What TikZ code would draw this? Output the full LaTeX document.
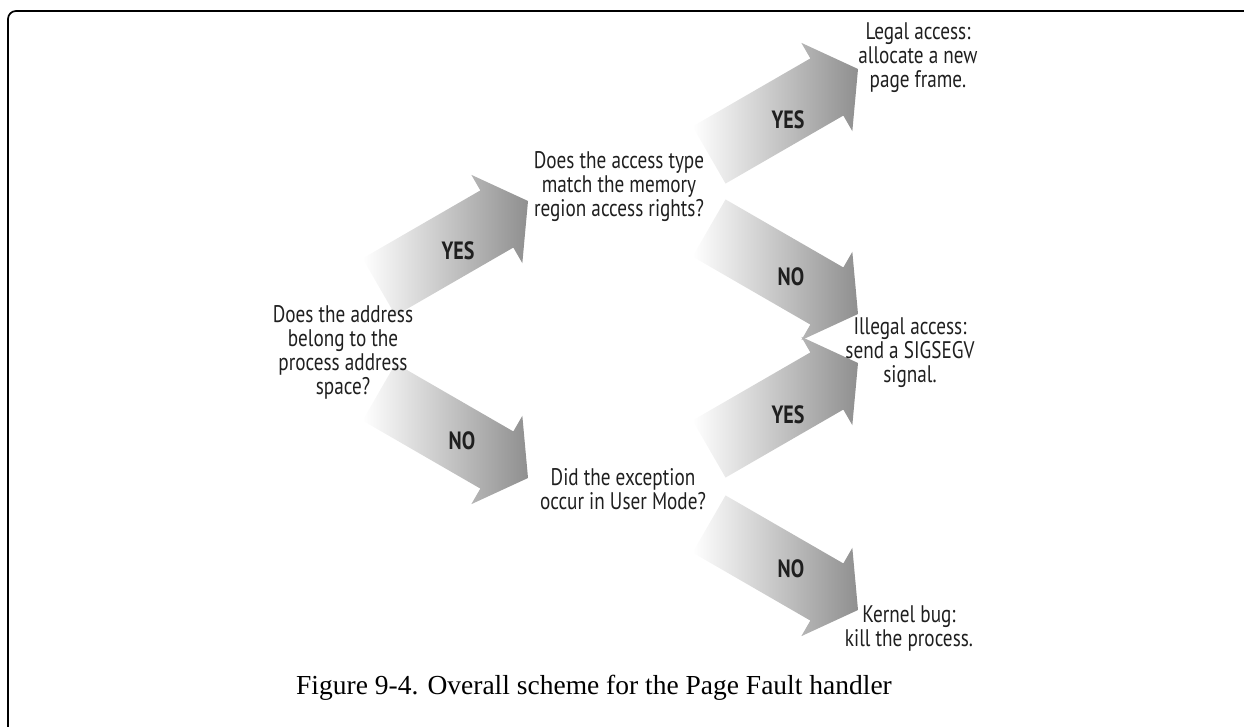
\documentclass[tikz,border=0pt]{standalone}
\usepackage{fontspec}
\setmainfont{Liberation Serif}
\newfontfamily\condfont[FakeStretch=0.8]{PT Sans}
\tikzset{
  qtext/.style={font=\condfont\fontsize{24}{24}\selectfont, align=center, text=black!88, inner sep=0pt},
  yn/.style={font=\condfont\bfseries\fontsize{25}{25}\selectfont, text=black!88, inner sep=0pt},
  fatarrow/.style={left color=white, right color=black!44, draw=none},
  frameline/.style={draw=black, line width=1.7pt, rounded corners=8pt},
}
\newcommand\fatarr[2]{%
  \begin{scope}[shift={(#1)}, rotate=#2]
    \shade[fatarrow] (0,0) -- (-36,51) -- (-36,33) -- (-172,33) -- (-172,-33) -- (-36,-33) -- (-36,-51) -- cycle;
  \end{scope}}
\begin{document}
\begin{tikzpicture}[x=1pt,y=-1pt]
\useasboundingbox (0,0) rectangle (1244,727);
\begin{scope}
  \clip (0,0) rectangle (1244,727);
  \draw[frameline] (8,760) -- (8,11) -- (1280,11);
\end{scope}

% arrow tips
\coordinate (t1) at (528,201);
\coordinate (t2) at (528,478);
\coordinate (t3) at (858,69);
\coordinate (t4) at (858,314);
\coordinate (t5) at (858,363);
\coordinate (t6) at (858,610);

\fatarr{t1}{30}
\fatarr{t2}{-30}
\fatarr{t3}{30}
\fatarr{t4}{-30}
\fatarr{t5}{30}
\fatarr{t6}{-30}

\node[qtext] (q1) at (343,352) {Does the address\\belong to the\\process address\\space?};
\node[qtext] (q2) at (619,187) {Does the access type\\match the memory\\region access rights?};
\node[qtext] (q3) at (623,489) {Did the exception\\occur in User Mode?};
\node[qtext] (r1) at (918,58) {Legal access:\\allocate a new\\page frame.};
\node[qtext] (r2) at (910,353) {Illegal access:\\send a SIGSEGV\\signal.};
\node[qtext] (r3) at (909,628) {Kernel bug:\\kill the process.};

\node[yn] (y1) at (458,251) {YES};
\node[yn] (n1) at (462,441) {NO};
\node[yn] (y2) at (788,120) {YES};
\node[yn] (n2) at (791,277) {NO};
\node[yn] (y3) at (788,415) {YES};
\node[yn] (n3) at (791,569) {NO};

\node[font=\fontsize{27.5}{27.5}\selectfont, inner sep=0pt] (cap) at (594,688) {Figure 9-4. Overall scheme for the Page Fault handler};
\end{tikzpicture}
\end{document}
